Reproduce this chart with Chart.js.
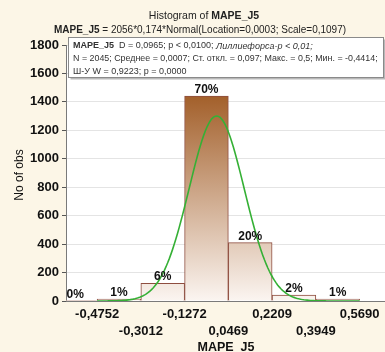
<!DOCTYPE html>
<html>
<head>
<meta charset="utf-8">
<script src="https://cdn.jsdelivr.net/npm/chart.js@4/dist/chart.umd.min.js"></script>
<style>
  html, body { margin: 0; padding: 0; background: #fcf6e7; }
  #wrap { width: 385px; height: 352px; }
</style>
</head>
<body>
<div id="wrap"><canvas id="c" width="385" height="352"></canvas></div>
<script>
// Histogram bins of MAPE_J5 (edges, centres, counts)
const binEdges   = [-0.4752, -0.3012, -0.1272, 0.0469, 0.2209, 0.3949, 0.5690];
const edgeLabels = ['-0,4752', '-0,3012', '-0,1272', '0,0469', '0,2209', '0,3949', '0,5690'];
const binCenters = [-0.5622, -0.3882, -0.2142, -0.0402, 0.1339, 0.3079, 0.4820];
const binCounts  = [1, 14, 124, 1440, 410, 42, 14];

// Fitted normal: 2056*0,174*Normal(Location=0,0003; Scale=0,1097)
const fitN = 2056;
const fitBinWidth = 0.174;
const fitLocation = 0.0003;
const fitScale = 0.1097;

const yTicks = [0, 200, 400, 600, 800, 1000, 1200, 1400, 1600, 1800];

const FONT = '"Liberation Sans", Arial, sans-serif';
const total = binCounts.reduce((a, b) => a + b, 0);

// sample the fitted density across the binned range
const curve = [];
{
  const x0 = binEdges[0], x1 = binEdges[binEdges.length - 1], n = 160;
  for (let i = 0; i <= n; i++) {
    const x = x0 + (x1 - x0) * i / n;
    const z = (x - fitLocation) / fitScale;
    const y = fitN * fitBinWidth * Math.exp(-0.5 * z * z) / (fitScale * Math.sqrt(2 * Math.PI));
    curve.push({ x, y });
  }
}

function drawRich(ctx, parts, x, y, align) {
  let w = 0;
  parts.forEach(p => { ctx.font = p.font; w += ctx.measureText(p.text).width; });
  let cx = align === 'center' ? x - w / 2 : x;
  ctx.textAlign = 'left';
  parts.forEach(p => {
    ctx.font = p.font;
    ctx.fillText(p.text, cx, y);
    cx += ctx.measureText(p.text).width;
  });
}

const decorations = {
  id: 'decorations',
  beforeDraw(chart) {
    const { ctx, chartArea: a } = chart;
    ctx.save();
    ctx.fillStyle = '#fcf6e7';
    ctx.fillRect(0, 0, chart.width, chart.height);
    ctx.fillStyle = '#ffffff';
    ctx.fillRect(a.left, a.top, a.right - a.left, a.bottom - a.top);
    ctx.restore();
  },
  afterDatasetsDraw(chart) {
    const { ctx } = chart;
    const meta = chart.getDatasetMeta(1);
    ctx.save();
    ctx.fillStyle = '#111';
    ctx.font = 'bold 12px ' + FONT;
    ctx.textAlign = 'center';
    ctx.textBaseline = 'alphabetic';
    meta.data.forEach((el, i) => {
      const pct = Math.round(binCounts[i] / total * 100) + '%';
      let x = el.x;
      if (i === 0) x = Math.max(x, chart.chartArea.left + 9);
      ctx.fillText(pct, x, el.y - 3);
    });
    ctx.restore();
  },
  afterDraw(chart) {
    const { ctx, chartArea: a } = chart;
    ctx.save();
    ctx.fillStyle = '#222';
    ctx.textBaseline = 'middle';
    // titles
    drawRich(ctx, [
      { text: 'Histogram of ', font: '10.5px ' + FONT },
      { text: 'MAPE_J5', font: 'bold 10.5px ' + FONT }
    ], 204, 16, 'center');
    drawRich(ctx, [
      { text: 'MAPE_J5', font: 'bold 10px ' + FONT },
      { text: ' = 2056*0,174*Normal(Location=0,0003; Scale=0,1097)', font: '10px ' + FONT }
    ], 200, 30, 'center');

    // axis titles
    ctx.fillStyle = '#111';
    ctx.font = '12px ' + FONT;
    ctx.textAlign = 'center';
    ctx.save();
    ctx.translate(20, (a.top + a.bottom) / 2 + 2);
    ctx.rotate(-Math.PI / 2);
    ctx.fillText('No of obs', 0, 0);
    ctx.restore();
    ctx.font = 'bold 12.5px ' + FONT;
    ctx.fillText('MAPE_J5', 226, 348);

    // statistics box
    const bx = 68.5, by = 37.5, bw = 315, bh = 40;
    ctx.fillStyle = '#b8b8b8';
    ctx.fillRect(bx + 2, by + 2, bw, bh);
    ctx.fillStyle = '#ffffff';
    ctx.fillRect(bx, by, bw, bh);
    ctx.strokeStyle = '#8a8a8a';
    ctx.lineWidth = 1;
    ctx.strokeRect(bx, by, bw, bh);
    ctx.fillStyle = '#333';
    drawRich(ctx, [
      { text: 'MAPE_J5', font: 'bold 9px ' + FONT },
      { text: '  D = 0,0965; p < 0,0100; ', font: '9px ' + FONT },
      { text: 'Лиллиефорса-p < 0,01;', font: 'italic 9px ' + FONT }
    ], 73, 46, 'left');
    drawRich(ctx, [
      { text: 'N = 2045; Среднее = 0,0007; Ст. откл. = 0,097; Макс. = 0,5; Мин. = -0,4414;', font: '8.9px ' + FONT }
    ], 73, 59, 'left');
    drawRich(ctx, [
      { text: 'Ш-У W = 0,9223; p = 0,0000', font: '9px ' + FONT }
    ], 73, 72, 'left');
    ctx.restore();
  }
};

const chart = new Chart(document.getElementById('c'), {
  type: 'bar',
  data: {
    datasets: [
      {
        type: 'line',
        data: curve,
        borderColor: '#35b035',
        borderWidth: 1.6,
        pointRadius: 0,
        fill: false,
        tension: 0,
        order: 0
      },
      {
        type: 'bar',
        data: binCenters.map((x, i) => ({ x, y: binCounts[i] })),
        barPercentage: 1,
        categoryPercentage: 1,
        borderColor: '#8e4d3f',
        borderWidth: 1,
        borderSkipped: 'bottom',
        backgroundColor: (ctx) => {
          const chart = ctx.chart;
          const { chartArea, scales } = chart;
          if (!chartArea) return '#c89a74';
          const top = scales.y.getPixelForValue(Math.max(...binCounts));
          const bottom = scales.y.getPixelForValue(0);
          const g = chart.ctx.createLinearGradient(0, top, 0, bottom);
          g.addColorStop(0, '#a3602b');
          g.addColorStop(1, '#fbf5f1');
          return g;
        },
        order: 1
      }
    ]
  },
  options: {
    responsive: false,
    animation: false,
    devicePixelRatio: 1,
    layout: { padding: { top: 45, right: 0, left: 0, bottom: 0 } },
    plugins: { legend: { display: false }, tooltip: { enabled: false } },
    scales: {
      x: {
        type: 'linear',
        min: -0.599,
        max: 0.670,
        offset: false,
        grid: { display: false, drawTicks: false },
        border: { display: true, color: '#7a7a7a' },
        afterBuildTicks: (scale) => { scale.ticks = binEdges.map(v => ({ value: v })); },
        afterFit: (scale) => { scale.height = 51; },
        ticks: {
          autoSkip: false,
          maxRotation: 0,
          minRotation: 0,
          padding: 5,
          color: '#111',
          font: { family: FONT, size: 13, weight: 'bold', lineHeight: 1.3 },
          callback: (v, i) => i % 2 ? ['', edgeLabels[i]] : edgeLabels[i]
        }
      },
      y: {
        min: 0,
        max: 1800,
        afterBuildTicks: (scale) => { scale.ticks = yTicks.map(v => ({ value: v })); },
        afterFit: (scale) => { scale.width = 66; },
        grid: { color: '#e4e4e4', tickLength: 4, tickColor: '#555' },
        border: { display: true, color: '#7a7a7a' },
        ticks: {
          padding: 3,
          color: '#111',
          font: { family: FONT, size: 13, weight: 'bold' },
          callback: (v) => String(v)
        }
      }
    }
  },
  plugins: [decorations]
});
</script>
</body>
</html>
